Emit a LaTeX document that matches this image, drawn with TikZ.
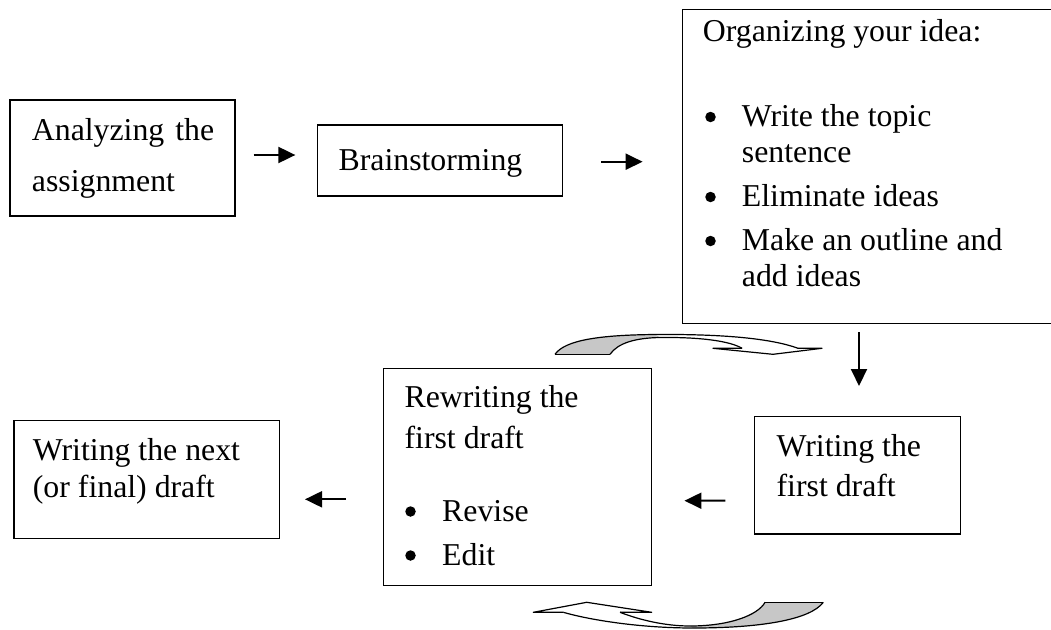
\documentclass[tikz,border=0pt]{standalone}
\usepackage{fontspec}
\setmainfont{Liberation Serif}
\usetikzlibrary{arrows.meta,calc}
\begin{document}
\begin{tikzpicture}[x=1pt,y=-1pt,
  box/.style={draw=black,line width=1.4pt,rectangle,inner sep=0pt,fill=none},
  txt/.style={anchor=base west,inner sep=0pt,font=\fontsize{31.8}{38}\selectfont},
  bul/.style={circle,fill=black,inner sep=0pt,minimum size=10.5pt},
  arr/.style={line width=2pt,-{Triangle[length=17pt,width=16pt]}},
  band/.style={line width=1.2pt,line join=round},
  shade/.style={fill=black!22}]
\useasboundingbox (0,0) rectangle (1051,629);
% boxes
\node[box,minimum width=225pt,minimum height=116pt] (ana) at (122.5,158) {};
\node[box,minimum width=245pt,minimum height=71pt] (brain) at (440.15,160.5) {};
\node[box,minimum width=372pt,minimum height=314pt] (org) at (868.7,166.5) {};
\node[box,minimum width=206pt,minimum height=117.3pt] (wfd) at (857.55,475.35) {};
\node[box,minimum width=268pt,minimum height=217.4pt] (rew) at (517.45,477) {};
\node[box,minimum width=265.3pt,minimum height=117.6pt] (wnd) at (146.65,479.5) {};
% texts
\node[txt] (t1) at (31.7,140) {Analyzing\hspace{3pt} the};
\node[txt] (t2) at (31.7,191) {assignment};
\node[txt] (t3) at (338.4,170) {Brainstorming};
\node[txt] (t4) at (702.7,41) {Organizing your idea:};
\node[bul] (b1) at (710.5,117) {};
\node[txt] (t5) at (741.7,126.7) {Write the topic};
\node[txt] (t6) at (741.7,162.7) {sentence};
\node[bul] (b2) at (710.5,197) {};
\node[txt] (t7) at (741.7,206.7) {Eliminate ideas};
\node[bul] (b3) at (710.5,241) {};
\node[txt] (t8) at (741.7,250.7) {Make an outline and};
\node[txt] (t9) at (741.7,286.7) {add ideas};
\node[txt] (t10) at (404.4,407.3) {Rewriting the};
\node[txt] (t11) at (404.4,448.3) {first draft};
\node[bul] (b4) at (410.5,511.5) {};
\node[txt] (t12) at (442,521) {Revise};
\node[bul] (b5) at (410.5,555.5) {};
\node[txt] (t13) at (442,565) {Edit};
\node[txt] (t14) at (776.4,456.7) {Writing the};
\node[txt] (t15) at (776.4,496.7) {first draft};
\node[txt] (t16) at (32.7,460) {Writing the next};
\node[txt] (t17) at (32.7,497.3) {(or final) draft};
% straight arrows
\draw[arr] ($(ana.east)+(18,-3)$) -- ($(brain.west)+(-21.6,-5.5)$);
\draw[arr] ($(brain.east)+(38,1.2)$) -- ($(org.west)+(-39.4,-4.8)$);
\draw[arr] ($(org.south)+(-9.7,8.2)$) -- ($(wfd.north)+(1.45,-30)$);
\draw[arr] ($(wfd.west)+(-28.6,25.35)$) -- ($(rew.east)+(32.3,23.7)$);
\draw[arr] ($(rew.west)+(-36.7,22.3)$) -- ($(wnd.east)+(25,19.8)$);
% top curved arrow
\coordinate (ta1) at (555,354.3);
\coordinate (ta2) at (610,354.3);
\coordinate (tap) at (655,334.5);
\coordinate (taq) at (660,337.5);
\coordinate (tao) at (798,348.3);
\coordinate (tai) at (742,348.3);
\coordinate (thl) at (713,348.3);
\coordinate (thr) at (822,348.3);
\coordinate (tht) at (773,354.3);
\fill[white] (thl) -- (tht) -- (thr) -- cycle;
\fill[white] (tap) .. controls (720,334) and (770,338) .. (tao) -- (tai) .. controls (730,341) and (700,337) .. (taq) -- cycle;
\fill[shade] (ta1) .. controls (565,340) and (600,335) .. (tap) -- (taq) .. controls (635,338) and (618,343) .. (ta2) -- cycle;
\draw[band] (ta1) .. controls (565,340) and (600,335) .. (tap) .. controls (720,334) and (770,338) .. (tao);
\draw[band] (ta2) .. controls (618,343) and (635,338) .. (taq) .. controls (700,337) and (730,341) .. (tai);
\draw[band] (ta1) -- (ta2);
\draw[band] (tai) -- (thl) -- (tht) -- (thr) -- (tao);
% bottom curved arrow
\coordinate (ba1) at (823.3,602.3);
\coordinate (ba2) at (765,602.3);
\coordinate (bbo) at (693,628);
\coordinate (bbi) at (690,626);
\coordinate (bho) at (563.3,612.3);
\coordinate (bhi) at (620,612.3);
\coordinate (bhl) at (533.3,612.3);
\coordinate (bhr) at (651.7,612.3);
\coordinate (bht) at (586.7,602.3);
\fill[white] (bhl) -- (bht) -- (bhr) -- cycle;
\fill[shade] (bbo) .. controls (760,628) and (810,620) .. (ba1) -- (ba2) .. controls (758,615) and (730,626) .. (bbi) -- cycle;
\draw[band] (bho) .. controls (590,620) and (640,628) .. (bbo) .. controls (760,628) and (810,620) .. (ba1);
\draw[band] (bhi) .. controls (640,620) and (665,626) .. (bbi) .. controls (730,626) and (758,615) .. (ba2);
\draw[band] (ba1) -- (ba2);
\draw[band] (bho) -- (bhl) -- (bht) -- (bhr) -- (bhi);
\end{tikzpicture}
\end{document}
